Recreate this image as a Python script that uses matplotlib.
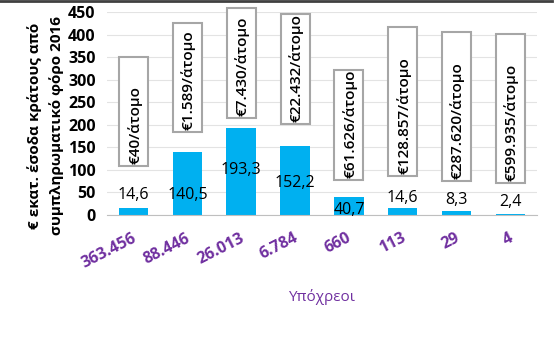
import matplotlib.pyplot as plt
from matplotlib.patches import Rectangle

plt.rcParams['font.family'] = ['Open Sans', 'DejaVu Sans']

# data
taxpayers = ["363.456", "88.446", "26.013", "6.784", "660", "113", "29", "4"]
revenue = [14.6, 140.5, 193.3, 152.2, 40.7, 14.6, 8.3, 2.4]
per_person = ["€40/άτομο", "€1.589/άτομο", "€7.430/άτομο", "€22.432/άτομο",
              "€61.626/άτομο", "€128.857/άτομο", "€287.620/άτομο", "€599.935/άτομο"]

# layout of the callout boxes and value labels (data units)
box_bottom = [108, 184, 215, 202, 78, 86, 75, 71]
box_top = [350, 425, 459, 446, 321, 417, 405, 401]
label_y = [44, 44, 100, 71, 11, 37, 33, 29]

bar_color = "#00B0F0"
purple = "#7030A0"

fig = plt.figure(figsize=(5.59, 3.45), dpi=100)
ax = fig.add_axes([0.191, 0.377, 0.77, 0.588])

x = range(len(taxpayers))
ax.bar(x, revenue, width=0.55, color=bar_color, zorder=2)

for i, v in enumerate(revenue):
    ax.text(i, label_y[i], f"{v:.1f}".replace(".", ","), ha="center", va="center",
            fontsize=11.5, color="black", zorder=4)
    ax.add_patch(Rectangle((i - 0.27, box_bottom[i]), 0.54, box_top[i] - box_bottom[i],
                           facecolor="white", edgecolor="#A6A6A6", lw=1.5,
                           zorder=3, clip_on=False))
    ax.text(i + 0.02, box_bottom[i] + 4, per_person[i], rotation=90, ha="center", va="bottom",
            fontsize=11, fontweight="semibold", zorder=4, clip_on=False)

ax.set_xlim(-0.5, len(taxpayers) - 0.5)
ax.set_ylim(0, 450)
ax.set_yticks(range(0, 451, 50))
ax.grid(axis="y", color="#E3E3E3", lw=0.8, zorder=0)
for s in ["top", "right", "left"]:
    ax.spines[s].set_visible(False)
ax.spines["bottom"].set_color("#BFBFBF")
ax.tick_params(axis="both", length=0)
ax.tick_params(axis="y", labelsize=11.5, pad=8)
for t in ax.get_yticklabels():
    t.set_fontweight("bold")

ax.set_xticks([i + 0.1 for i in x])
ax.set_xticklabels(taxpayers, rotation=27, ha="right", va="top",
                   color=purple, fontsize=11.5, fontweight="bold")
ax.tick_params(axis="x", pad=11)
ax.set_xlabel("Υπόχρεοι", color=purple, fontsize=11, fontweight="medium", labelpad=13)
ax.set_ylabel("€ εκατ. έσοδα κράτους από\nσυμπληρωματικό φόρο 2016",
              fontsize=11, fontweight="bold", linespacing=1.55)
ax.yaxis.set_label_coords(-0.10, 0.44)

# dark border line on top of the picture
fig.add_artist(plt.Line2D([0, 0.988], [0.997, 0.997], color="#404040", lw=2,
                          transform=fig.transFigure))

fig.savefig("out.png", dpi=100)
